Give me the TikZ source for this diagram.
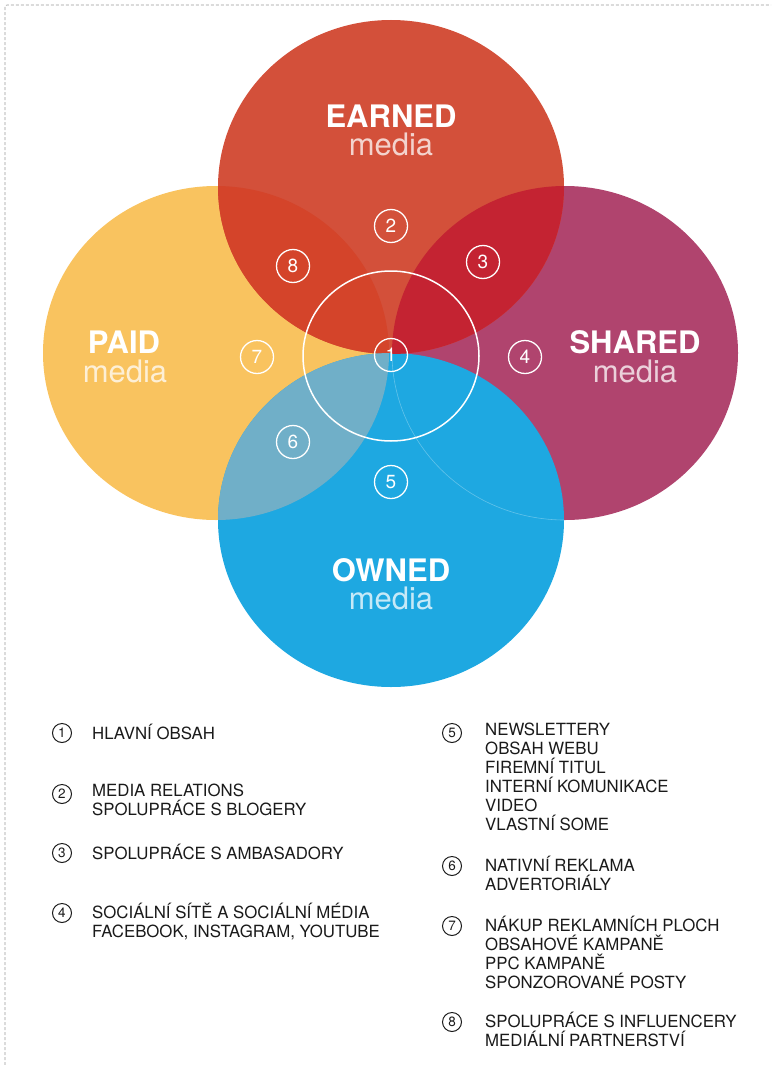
\documentclass[tikz,border=0pt]{standalone}
\usepackage{fontspec}
\setmainfont{TeX Gyre Heros}
\usepackage{tikz}

\definecolor{earned}{HTML}{D3503A}
\definecolor{paid}{HTML}{F9C35F}
\definecolor{shared}{HTML}{B0446E}
\definecolor{owned}{HTML}{1EA8E1}
\definecolor{earnedpaid}{HTML}{D4442A}
\definecolor{earnedshared}{HTML}{C42332}
\definecolor{paidowned}{HTML}{70AFC8}
\definecolor{legendtext}{HTML}{1A1A1A}

\begin{document}
\begin{tikzpicture}[
  x=1pt, y=-1pt,
  media/.style={x radius=173pt, y radius=167pt},
  badge/.style={draw=white, line width=1.3pt, circle, minimum size=33pt, inner sep=0pt,
    text=white, font=\fontsize{19}{19}\selectfont},
  title/.style={text=white, anchor=base, inner sep=0pt, font=\fontsize{31}{31}\selectfont\bfseries},
  sub/.style={text=white, text opacity=0.75, anchor=base, inner sep=0pt, font=\fontsize{31}{31}\selectfont},
  key/.style={draw=legendtext, line width=1pt, circle, minimum size=19pt, inner sep=0pt,
    text=legendtext, font=\fontsize{13.5}{13.5}\selectfont},
  entry/.style={anchor=north west, align=left, inner sep=0pt, text=legendtext,
    font=\fontsize{16.8}{19}\selectfont, execute at begin node=\rule{0pt}{16pt}}
]
\useasboundingbox (0,0) rectangle (771,1065);

\coordinate (E) at (391,187);
\coordinate (P) at (216,353);
\coordinate (S) at (565,353);
\coordinate (O) at (391,520);

% the four media
\fill[paid] (P) ellipse[media];
\fill[shared] (S) ellipse[media];
\fill[earned] (E) ellipse[media];
\fill[owned] (O) ellipse[media];

% overlaps
\begin{scope}
  \clip (E) ellipse[media];
  \fill[earnedpaid] (P) ellipse[media];
  \fill[earnedshared] (S) ellipse[media];
\end{scope}
\begin{scope}
  \clip (O) ellipse[media];
  \fill[paidowned] (P) ellipse[media];
  \draw[white, opacity=0.3, line width=0.6pt] (S) ellipse[media];
\end{scope}

\draw[white, line width=1.5pt] (391,356) ellipse[x radius=88pt, y radius=85pt];

% numbers in the diagram
\node[badge] (n1) at (391,355) {1};
\node[badge] (n2) at (391,226) {2};
\node[badge] (n3) at (483,262) {3};
\node[badge] (n4) at (525,357) {4};
\node[badge] (n5) at (391,482) {5};
\node[badge] (n6) at (293,442) {6};
\node[badge] (n7) at (257,357) {7};
\node[badge] (n8) at (293,266) {8};

% titles
\node[title] (earned) at (391,127) {EARNED};
\node[sub] (earnedsub) at (391,155) {media};
\node[title] (paid) at (124,353) {PAID};
\node[sub] (paidsub) at (125,382) {media};
\node[title] (shared) at (635,353) {SHARED};
\node[sub] (sharedsub) at (635,382) {media};
\node[title] (owned) at (391,581) {OWNED};
\node[sub] (ownedsub) at (391,609) {media};

% legend, left column
\node[key] (k1) at (62,733) {1};
\node[entry] (t1) at (92,723) {HLAVNÍ OBSAH};
\node[key] (k2) at (62,794) {2};
\node[entry] (t2) at (92,784) {MEDIA RELATIONS\\SPOLUPRÁCE S BLOGERY};
\node[key] (k3) at (62,853) {3};
\node[entry] (t3) at (92,843) {SPOLUPRÁCE S AMBASADORY};
\node[key] (k4) at (62,913) {4};
\node[entry] (t4) at (92,903) {SOCIÁLNÍ SÍTĚ A SOCIÁLNÍ MÉDIA\\FACEBOOK, INSTAGRAM, YOUTUBE};

% legend, right column
\node[key] (k5) at (452,733) {5};
\node[entry] (t5) at (485,723) {NEWSLETTERY\\OBSAH WEBU\\FIREMNÍ TITUL\\INTERNÍ KOMUNIKACE\\VIDEO\\VLASTNÍ SOME};
\node[key] (k6) at (452,866) {6};
\node[entry] (t6) at (485,856) {NATIVNÍ REKLAMA\\ADVERTORIÁLY};
\node[key] (k7) at (452,926) {7};
\node[entry] (t7) at (485,916) {NÁKUP REKLAMNÍCH PLOCH\\OBSAHOVÉ KAMPANĚ\\PPC KAMPANĚ\\SPONZOROVANÉ POSTY};
\node[key] (k8) at (452,1022) {8};
\node[entry] (t8) at (485,1012) {SPOLUPRÁCE S INFLUENCERY\\MEDIÁLNÍ PARTNERSTVÍ};

% frame
\draw[gray!80, line width=0.6pt, dash pattern=on 3pt off 2pt, rounded corners=2pt]
  (5,1065) -- (5,5) -- (771,5);
\end{tikzpicture}
\end{document}
